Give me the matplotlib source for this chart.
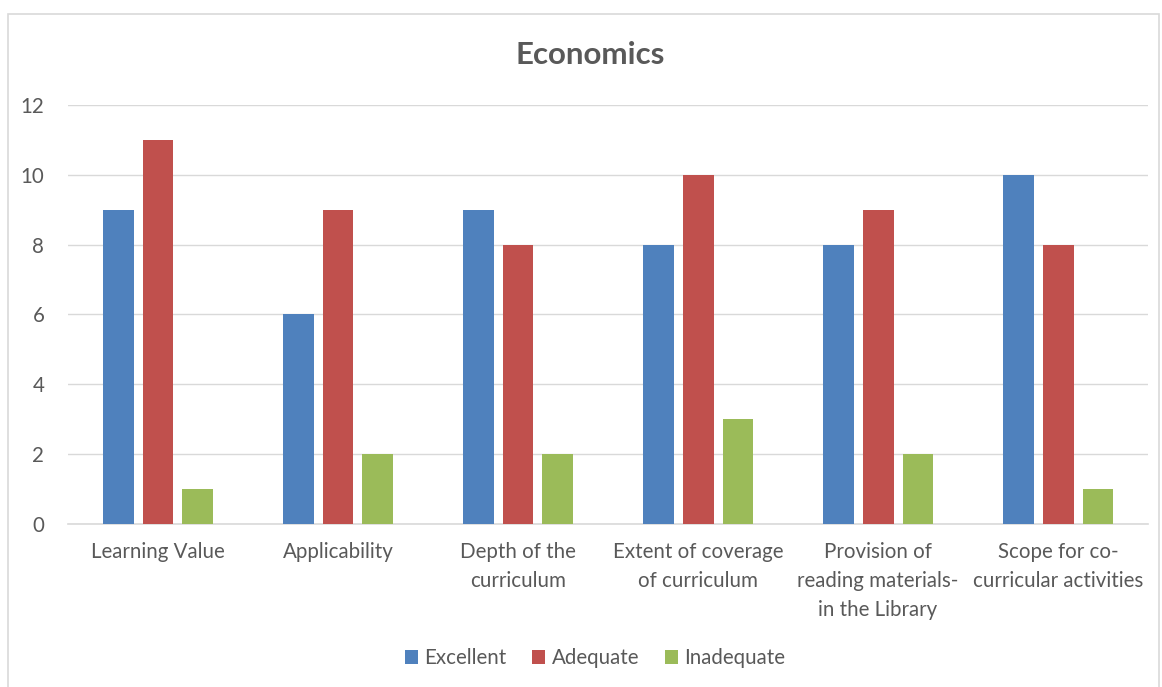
import numpy as np
import matplotlib.pyplot as plt
from matplotlib.patches import Rectangle

# survey counts per aspect
categories = ['Learning Value', 'Applicability', 'Depth of the\ncurriculum',
              'Extent of coverage\nof curriculum', 'Provision of\nreading materials-\nin the Library',
              'Scope for co-\ncurricular activities']
excellent = [9, 6, 9, 8, 8, 10]
adequate = [11, 9, 8, 10, 9, 8]
inadequate = [1, 2, 2, 3, 2, 1]

series = [('Excellent', excellent, '#4F81BD'),
          ('Adequate', adequate, '#C0504D'),
          ('Inadequate', inadequate, '#9BBB59')]

plt.rcParams['font.family'] = ['Lato', 'DejaVu Sans']
txt = '#595959'

fig = plt.figure(figsize=(11.62, 6.87), dpi=100)
fig.patches.append(Rectangle((0.007, -0.01), 0.99, 0.99, transform=fig.transFigure,
                             fill=False, edgecolor='#D9D9D9', linewidth=1.2))
ax = fig.add_axes([0.0585, 0.2373, 0.9295, 0.6099])

x = np.arange(len(categories))
w = 0.172
step = 0.222
for i, (name, vals, col) in enumerate(series):
    ax.bar(x + (i - 1) * step, vals, w, color=col, label=name, zorder=3)

ax.set_xlim(-0.5, len(categories) - 0.5)
ax.set_ylim(0, 12)
ax.set_yticks(range(0, 13, 2))
ax.grid(axis='y', color='#D9D9D9', linewidth=1, zorder=0)
for s in ['top', 'right', 'left']:
    ax.spines[s].set_visible(False)
ax.spines['bottom'].set_color('#D9D9D9')
ax.spines['bottom'].set_linewidth(1.2)
ax.tick_params(length=0, colors=txt, labelsize=14.8)
ax.tick_params(axis='x', pad=13)
ax.tick_params(axis='y', pad=17)
ax.set_xticks(x)
ax.set_xticklabels(categories, linespacing=1.55)

fig.text(0.508, 0.92, 'Economics', ha='center', va='center', fontsize=22.5,
         fontweight='bold', color=txt)

fig.legend(loc='center', bbox_to_anchor=(0.512, 0.042), ncol=3, frameon=False,
           fontsize=14.8, handlelength=0.65, handleheight=0.65, handletextpad=0.3,
           columnspacing=1.25, labelcolor=txt)

fig.savefig('out.png', dpi=100)
